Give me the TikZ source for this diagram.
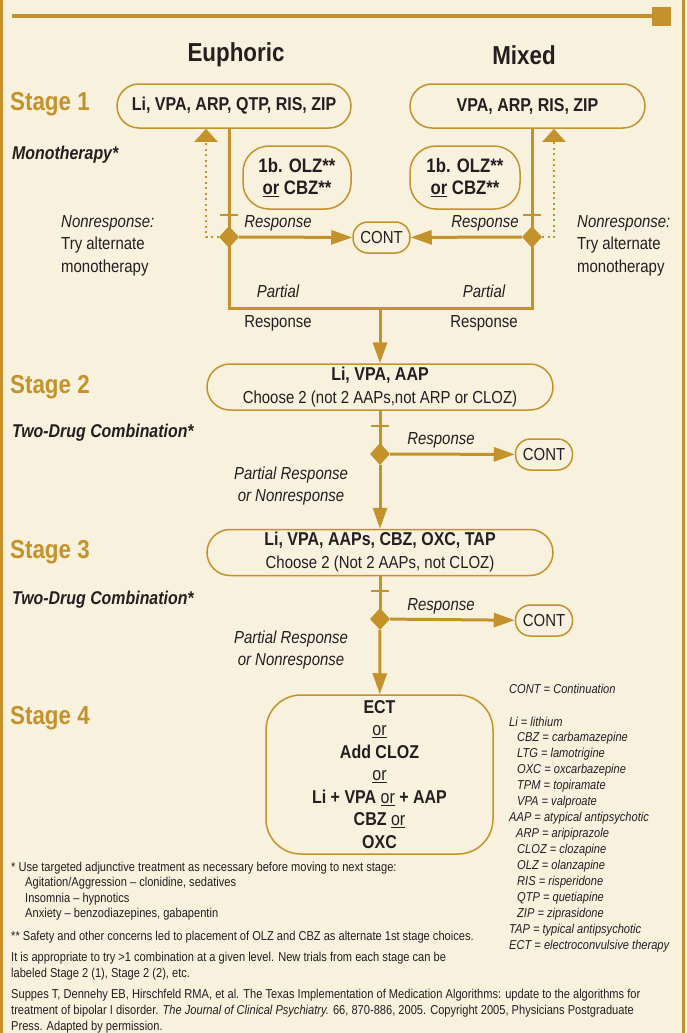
\documentclass[tikz,border=0pt]{standalone}
\usepackage{fontspec}
\setmainfont{Liberation Sans}[FakeStretch=0.86]
\usetikzlibrary{arrows.meta,shapes.geometric}
\definecolor{gold}{HTML}{C4922A}
\definecolor{paper}{HTML}{F8F1DE}
\definecolor{ink}{HTML}{231F20}

\begin{document}
\begin{tikzpicture}[x=1pt, y=-1pt]
\tikzset{BoxStyle/.style = {draw=gold, line width=1.5pt, fill=paper, text=ink, align=center, inner sep=2pt}}
\tikzset{DrugStyle/.style = {BoxStyle, font=\fontsize{18.6}{22.5}\selectfont\bfseries}}
\tikzset{StepStyle/.style = {BoxStyle, minimum width=346pt, minimum height=46pt, rounded corners=23pt, font=\fontsize{17.4}{23}\selectfont}}
\tikzset{ContStyle/.style = {BoxStyle, minimum width=57pt, minimum height=31pt, rounded corners=15pt, font=\fontsize{17.4}{20}\selectfont}}
\tikzset{ChoiceStyle/.style = {shape=diamond, fill=gold, inner sep=0pt, minimum width=20pt, minimum height=22pt}}
\tikzset{TickStyle/.style = {fill=gold, inner sep=0pt, minimum width=18pt, minimum height=2.5pt}}
\tikzset{EdgeStyle/.style = {draw=gold, line width=3pt}}
\tikzset{ArrowStyle/.style = {EdgeStyle, -{Triangle[length=21pt, width=14pt]}}}
\tikzset{TryStyle/.style = {draw=gold, line width=2pt, dash pattern=on 2pt off 3.5pt, -{Triangle[length=13pt, width=23pt]}}}
\tikzset{LabelStyle/.style = {text=ink, inner sep=0pt, align=center, font=\fontsize{17.4}{22.5}\selectfont\itshape}}
\tikzset{StageStyle/.style = {anchor=west, inner sep=0pt, text=gold, font=\fontsize{26}{30}\selectfont\bfseries}}
\tikzset{TherapyStyle/.style = {anchor=west, inner sep=0pt, text=ink, font=\fontsize{18.5}{22}\selectfont\bfseries\itshape}}
\tikzset{KeyStyle/.style = {anchor=base west, inner sep=0pt, text=ink, font=\fontsize{12.9}{16}\selectfont\itshape}}
\tikzset{NoteStyle/.style = {anchor=base west, inner sep=0pt, text=ink, font=\fontsize{12.9}{15}\selectfont}}

  \fill[paper] (0,0) rectangle (686,1033);
  \useasboundingbox (0,0) rectangle (686,1033);
  \draw[gold, line width=3pt] (1.5,0) -- (1.5,1033);
  \draw[gold, line width=2.5pt] (683.5,0) -- (683.5,1033);
  \draw[gold, line width=3.5pt] (12,16) -- (655,16);
  \fill[gold] (652,7) rectangle (671,26);

  \node[text=ink, font=\fontsize{26}{30}\selectfont\bfseries] (euph) at (236,55) {Euphoric};
  \node[text=ink, font=\fontsize{26}{30}\selectfont\bfseries] (mixed) at (524,55) {Mixed};

  \node[StageStyle] (st1) at (10,104) {Stage 1};
  \node[StageStyle] (st2) at (10,387) {Stage 2};
  \node[StageStyle] (st3) at (10,552) {Stage 3};
  \node[StageStyle] (st4) at (10,718) {Stage 4};
  \node[TherapyStyle] (th1) at (12,155) {Monotherapy*};
  \node[TherapyStyle] (th2) at (12,433) {Two-Drug Combination*};
  \node[TherapyStyle] (th3) at (12,600) {Two-Drug Combination*};

  \node[DrugStyle, minimum width=234pt, minimum height=44pt, rounded corners=22pt] (s1e) at (234,106) {Li, VPA, ARP, QTP, RIS, ZIP};
  \node[DrugStyle, minimum width=235pt, minimum height=44pt, rounded corners=22pt] (s1m) at (527.5,106) {VPA, ARP, RIS, ZIP};
  \node[DrugStyle, minimum width=108pt, minimum height=63pt, rounded corners=26pt, font=\fontsize{19.5}{22}\selectfont\bfseries] (alt1) at (297,177.5) {1b. OLZ**\\\underline{or} CBZ**};
  \node[DrugStyle, minimum width=110pt, minimum height=63pt, rounded corners=26pt, font=\fontsize{19.5}{22}\selectfont\bfseries] (alt2) at (465,177.5) {1b. OLZ**\\\underline{or} CBZ**};
  \node[ContStyle] (c1) at (381.5,237.5) {CONT};

  \node[TickStyle] (t1) at (229,215) {};
  \node[TickStyle] (t2) at (532,215) {};
  \node[ChoiceStyle] (d1) at (229,237) {};
  \node[ChoiceStyle] (d2) at (532,237) {};
  \coordinate (pl) at (229,308);
  \coordinate (pr) at (532,308);
  \coordinate (pm) at (380,308);
  \coordinate (nl) at (206,237);
  \coordinate (nr) at (554,237);

  \node[LabelStyle] (r1) at (278,223) {Response};
  \node[LabelStyle] (r2) at (485,223) {Response};
  \node[LabelStyle, anchor=north west, align=left, font=\fontsize{17.4}{22.5}\selectfont] (n1) at (61,215) {{\itshape Nonresponse:}\\Try alternate\\monotherapy};
  \node[LabelStyle, anchor=north west, align=left, font=\fontsize{17.4}{22.5}\selectfont] (n2) at (577,215) {{\itshape Nonresponse:}\\Try alternate\\monotherapy};
  \node[LabelStyle] (p1) at (278,291) {Partial};
  \node[LabelStyle] (p2) at (484,291) {Partial};
  \node[LabelStyle, font=\fontsize{17.4}{20}\selectfont] (q1) at (278,323) {Response};
  \node[LabelStyle, font=\fontsize{17.4}{20}\selectfont] (q2) at (484,323) {Response};

  \node[StepStyle] (s2) at (380,387) {{\fontsize{18.6}{23}\selectfont\bfseries Li, VPA, AAP}\\Choose 2 (not 2 AAPs,not ARP or CLOZ)};
  \node[TickStyle] (t3) at (380,426) {};
  \node[ChoiceStyle] (d3) at (380,454) {};
  \node[ContStyle] (c2) at (544,454.5) {CONT};
  \node[LabelStyle] (r3) at (441,440) {Response};
  \node[LabelStyle] (pr3) at (291,486) {Partial Response\\or Nonresponse};

  \node[StepStyle] (s3) at (380,552.5) {{\fontsize{18.6}{23}\selectfont\bfseries Li, VPA, AAPs, CBZ, OXC, TAP}\\Choose 2 (Not 2 AAPs, not CLOZ)};
  \node[TickStyle] (t4) at (380,591) {};
  \node[ChoiceStyle] (d4) at (380,619) {};
  \node[ContStyle] (c3) at (544,620.5) {CONT};
  \node[LabelStyle] (r4) at (441,606) {Response};
  \node[LabelStyle] (pr4) at (291,650) {Partial Response\\or Nonresponse};

  \node[DrugStyle, minimum width=227pt, minimum height=159pt, rounded corners=35pt] (s4) at (379.5,774.5) {ECT\\{\mdseries\underline{or}}\\Add CLOZ\\{\mdseries\underline{or}}\\Li + VPA {\mdseries\underline{or}} + AAP\\CBZ {\mdseries\underline{or}}\\OXC};

  \draw[EdgeStyle] (s1e.south -| d1) -- (d1.center) -- (pl) -- (pr) -- (d2.center) -- (s1m.south -| d2);
  \draw[ArrowStyle] (d1) -- (c1);
  \draw[ArrowStyle] (d2) -- (c1);
  \draw[TryStyle] (d1.west) -- (nl) -- (nl |- s1e.south);
  \draw[TryStyle] (d2.east) -- (nr) -- (nr |- s1m.south);
  \draw[ArrowStyle] (pm) -- (s2);
  \draw[EdgeStyle] (s2) -- (d3.center);
  \draw[ArrowStyle] (d3) -- (c2);
  \draw[ArrowStyle] (d3) -- (s3);
  \draw[EdgeStyle] (s3) -- (d4.center);
  \draw[ArrowStyle] (d4) -- (c3);
  \draw[ArrowStyle] (d4) -- (s4);

  \foreach \dx/\yy/\txt in {509/693/CONT = Continuation, 509/726/Li = lithium, 517/741/CBZ = carbamazepine,
    517/757/LTG = lamotrigine, 517/773/OXC = oxcarbazepine, 517/789/TPM = topiramate, 517/805/VPA = valproate,
    509/821/AAP = atypical antipsychotic, 516/837/ARP = aripiprazole, 517/853/CLOZ = clozapine,
    517/869/OLZ = olanzapine, 517/885/RIS = risperidone, 517/901/QTP = quetiapine, 517/917/ZIP = ziprasidone,
    509/933/TAP = typical antipsychotic, 509/949/ECT = electroconvulsive therapy}
    \node[KeyStyle] (key\yy) at (\dx,\yy) {\txt};

  \node[NoteStyle] (f1) at (11,871) {* Use targeted adjunctive treatment as necessary before moving to next stage:};
  \node[NoteStyle] (f2) at (25,886) {Agitation/Aggression – clonidine, sedatives};
  \node[NoteStyle] (f3) at (25,902) {Insomnia – hypnotics};
  \node[NoteStyle] (f4) at (25,917) {Anxiety – benzodiazepines, gabapentin};
  \node[NoteStyle] (f5) at (11,940) {** Safety and other concerns led to placement of OLZ and CBZ as alternate 1st stage choices.};
  \node[NoteStyle] (f6) at (11,961) {It is appropriate to try >1 combination at a given level. New trials from each stage can be};
  \node[NoteStyle] (f7) at (11,977) {labeled Stage 2 (1), Stage 2 (2), etc.};
  \node[NoteStyle] (f8) at (11,998) {Suppes T, Dennehy EB, Hirschfeld RMA, et al. The Texas Implementation of Medication Algorithms: update to the algorithms for};
  \node[NoteStyle] (f9) at (11,1014) {treatment of bipolar I disorder. \textit{The Journal of Clinical Psychiatry.} 66, 870-886, 2005. Copyright 2005, Physicians Postgraduate};
  \node[NoteStyle] (f10) at (11,1030) {Press. Adapted by permission.};
\end{tikzpicture}
\end{document}
